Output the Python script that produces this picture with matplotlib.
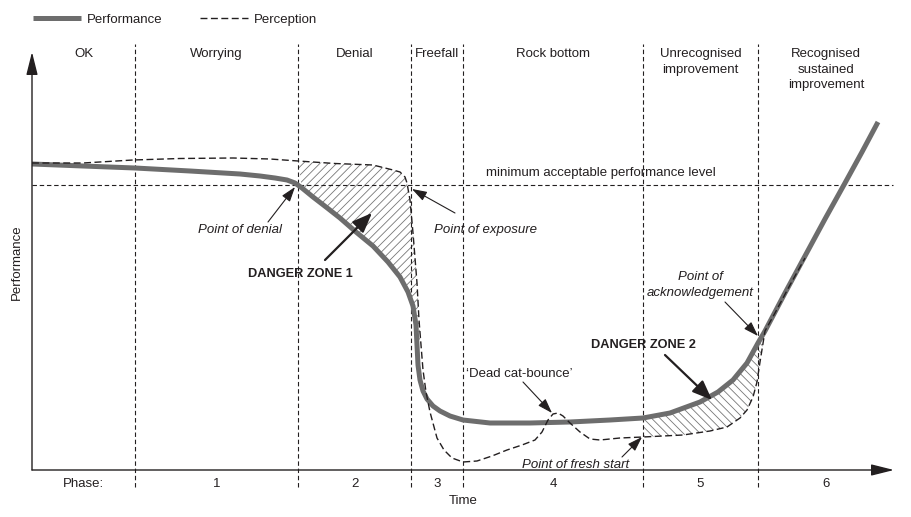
import numpy as np
import matplotlib.pyplot as plt

plt.rcParams['font.family'] = ['Liberation Sans', 'DejaVu Sans']
plt.rcParams['hatch.linewidth'] = 0.6

# chart units: time along the x axis, performance up the y axis (origin = axis corner)
perf_t = np.array([0, 51, 103, 158, 208, 228, 243, 255, 263, 270, 281, 294, 308, 324, 341,
                   356, 368, 376, 381, 384, 385, 386, 388, 391, 395, 401, 408, 418, 431,
                   458, 498, 538, 578, 611, 638, 668, 686, 701, 715, 726, 733, 753, 773,
                   793, 813, 830, 846])
perf_p = np.array([306, 304, 302, 299, 296, 294, 292, 290, 287, 282, 273, 263, 252, 238, 224,
                   208, 193, 178, 164, 145, 125, 105, 90, 79, 71, 64, 59, 54, 50,
                   47, 47, 48, 50, 52, 57, 68, 78, 90, 107, 127, 139, 177, 214,
                   251, 287, 318, 348])

perc_t = np.array([0, 51, 101, 148, 201, 238, 266, 303, 341, 361, 368, 373, 375, 378, 381,
                   385, 387, 389, 391, 394, 398, 405, 412, 420, 431, 445, 460, 475, 490,
                   503, 510, 516, 521, 526, 531, 538, 548, 558, 568, 588, 611, 651, 678,
                   695, 708, 715, 721, 725, 728, 733, 743, 758, 773])
perc_p = np.array([307, 307, 310, 311.5, 312, 311, 309, 306.5, 305, 300, 298, 293, 287, 270, 237,
                   187, 150, 125, 100, 78, 58, 32, 20, 12, 8, 9, 14, 20, 25,
                   30, 38, 50, 56, 57, 54, 47, 38, 31, 30, 32, 33, 35, 39,
                   43, 52, 60, 73, 88, 108, 139, 157, 185, 212])

phase_bounds = [103, 266, 379, 431, 611, 726]
t_end = 862
phase_names = ['OK', 'Worrying', 'Denial', 'Freefall', 'Rock bottom',
               'Unrecognised\nimprovement', 'Recognised\nsustained\nimprovement']
phase_nums = ['Phase:', '1', '2', '3', '4', '5', '6']
min_level = 285

ink = '#231f20'
grey = '#6d6d6d'
hatch_grey = '#777777'

fig = plt.figure(figsize=(9.11, 5.17), dpi=100)
ax = fig.add_axes([0, 0, 1, 1])
ax.set_xlim(-32, 879)
ax.set_ylim(-47, 470)
ax.axis('off')

# phase dividers and minimum level
ax.vlines(phase_bounds, -17, 426, colors=ink, lw=0.8, linestyles=(0, (4, 2.5)))
ax.hlines(min_level, 0, 861, colors=ink, lw=0.8, linestyles=(0, (4, 2.5)))

# axes with arrow heads
ax.annotate('', xy=(862, 0), xytext=(0, 0),
            arrowprops=dict(arrowstyle='-|>,head_length=1.4,head_width=0.35', lw=1.0,
                            color=ink, mutation_scale=10, shrinkA=0, shrinkB=0))
ax.annotate('', xy=(0, 418), xytext=(0, 0),
            arrowprops=dict(arrowstyle='-|>,head_length=1.4,head_width=0.35', lw=1.0,
                            color=ink, mutation_scale=10, shrinkA=0, shrinkB=0))

# danger zones
m1 = (perc_t >= 266) & (perc_t <= 389)
m1b = (perf_t >= 266) & (perf_t <= 385)
ax.fill(np.r_[perc_t[m1], perf_t[m1b][::-1]], np.r_[perc_p[m1], perf_p[m1b][::-1]],
        facecolor='none', edgecolor=hatch_grey, lw=0, hatch='////')
m2 = (perf_t >= 611) & (perf_t <= 733)
m2b = (perc_t >= 611) & (perc_t <= 733)
ax.fill(np.r_[perf_t[m2], perc_t[m2b][::-1]], np.r_[perf_p[m2], perc_p[m2b][::-1]],
        facecolor='none', edgecolor=hatch_grey, lw=0, hatch='\\\\\\\\')

perf_line, = ax.plot(perf_t, perf_p, color=grey, lw=3.6, solid_capstyle='butt',
                     solid_joinstyle='round', label='Performance')
perc_line, = ax.plot(perc_t, perc_p, color=ink, lw=1.0, dashes=(5, 2.5), label='Perception')

# labels
fs = 9.5
centres = np.convolve([0] + phase_bounds + [t_end], [0.5, 0.5], mode='valid')
for c, name, num in zip(centres, phase_names, phase_nums):
    ax.text(c, 422, name, ha='center', va='top', fontsize=fs, color=ink, linespacing=1.4)
    ax.text(c, -14, num, ha='center', va='center', fontsize=fs, color=ink)
ax.text(431, -31, 'Time', ha='center', va='center', fontsize=fs, color=ink)
ax.text(-15, 208, 'Performance', ha='center', va='center', rotation=90, fontsize=fs, color=ink)
ax.text(569, 297, 'minimum acceptable performance level', ha='center', va='center',
        fontsize=fs, color=ink)

thin = dict(arrowstyle='-|>,head_length=0.9,head_width=0.3', lw=0.8, color=ink,
            mutation_scale=10, shrinkA=0, shrinkB=0)
thick = dict(arrowstyle='-|>,head_length=1.0,head_width=0.4', lw=1.6, color=ink,
             mutation_scale=12, shrinkA=0, shrinkB=0)

ax.text(208, 240, 'Point of denial', ha='center', va='center', fontsize=fs, style='italic', color=ink)
ax.annotate('', xy=(263, 283), xytext=(236, 248), arrowprops=thin)
ax.text(453, 240, 'Point of exposure', ha='center', va='center', fontsize=fs, style='italic', color=ink)
ax.annotate('', xy=(380, 281), xytext=(423, 257), arrowprops=thin)
ax.text(268, 196, 'DANGER ZONE 1', ha='center', va='center', fontsize=9.2, weight='bold', color=ink)
ax.annotate('', xy=(340, 257), xytext=(293, 210), arrowprops=thick)
ax.text(487, 96, '\u2018Dead cat-bounce\u2019', ha='center', va='center', fontsize=fs, color=ink)
ax.annotate('', xy=(520, 57), xytext=(491, 88), arrowprops=thin)
ax.text(544, 5, 'Point of fresh start', ha='center', va='center', fontsize=fs, style='italic', color=ink)
ax.annotate('', xy=(610, 33), xytext=(590, 13), arrowprops=thin)
ax.text(611, 125, 'DANGER ZONE 2', ha='center', va='center', fontsize=9.2, weight='bold', color=ink)
ax.annotate('', xy=(680, 70), xytext=(633, 115), arrowprops=thick)
ax.text(668, 185, 'Point of\nacknowledgement', ha='center', va='center', fontsize=fs,
        style='italic', color=ink, linespacing=1.45)
ax.annotate('', xy=(726, 134), xytext=(693, 168), arrowprops=thin)

ax.legend(handles=[perf_line, perc_line], loc='center left', ncol=2, frameon=False,
          bbox_to_anchor=(33 / 911, 1 - 20 / 517), borderpad=0, borderaxespad=0,
          handlelength=3.6, handletextpad=0.45, columnspacing=2.9, fontsize=fs,
          labelcolor=ink)

fig.savefig('out.png', dpi=100)
